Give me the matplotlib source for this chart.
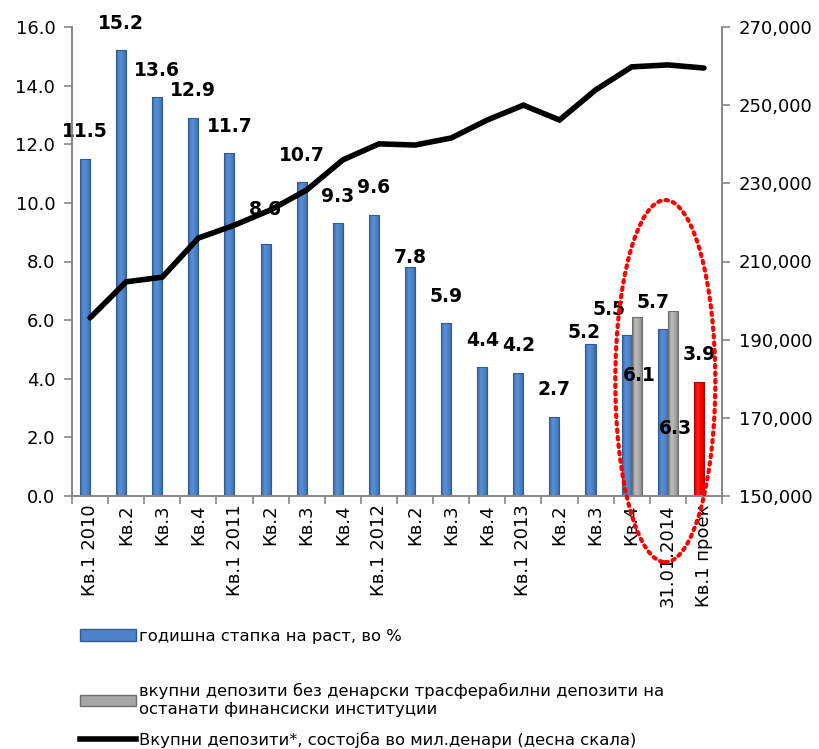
import numpy as np
import matplotlib
matplotlib.use('Agg')
import matplotlib.pyplot as plt
from matplotlib.patches import Patch, Ellipse
from matplotlib.lines import Line2D
from matplotlib.colors import LinearSegmentedColormap
from matplotlib.ticker import FuncFormatter, FixedLocator

plt.rcParams['font.family'] = ['DejaVu Sans']

categories = ['Кв.1 2010', 'Кв.2', 'Кв.3', 'Кв.4', 'Кв.1 2011', 'Кв.2', 'Кв.3', 'Кв.4',
              'Кв.1 2012', 'Кв.2', 'Кв.3', 'Кв.4', 'Кв.1 2013', 'Кв.2', 'Кв.3', 'Кв.4',
              '31.01.2014', 'Кв.1 проек']
# годишна стапка на раст (the last one is the projection, drawn in red)
growth = [11.5, 15.2, 13.6, 12.9, 11.7, 8.6, 10.7, 9.3, 9.6, 7.8, 5.9, 4.4, 4.2, 2.7,
          5.2, 5.5, 5.7, 3.9]
# без денарски трансферабилни депозити на ОФИ
growth_adj_idx = [15, 16]
growth_adj = [6.1, 6.3]
# вкупни депозити, мил. денари
deposits = [195600, 204800, 206000, 216000, 219300, 223200, 228300, 236000, 240100,
            239800, 241600, 246200, 250000, 246200, 253900, 259800, 260300, 259500]

# label offsets (pixels from bar top), per bar
blue_lbl_off = [(0, 27)] * 18
blue_lbl_off[5] = (0, 34)
blue_lbl_off[9] = (0, 10)
blue_lbl_off[14] = (-6, 11)
blue_lbl_off[15] = (-18, 25)
blue_lbl_off[16] = (-10, 26)
grey_lbl_off = [(3, -58), (3, -117)]

BLUE_E = '#2F5C94'
GREY_E = '#6E6E6E'
AX_C = '#868686'
blue_cm = LinearSegmentedColormap.from_list('b', ['#3A67A3', '#5A8ED5', '#4F83C9', '#3A67A3'])
grey_cm = LinearSegmentedColormap.from_list('g', ['#7F7F7F', '#BDBDBD', '#A6A6A6', '#7A7A7A'])
red_cm = LinearSegmentedColormap.from_list('r', ['#D00000', '#FF2020', '#FF0000', '#C80000'])


def shade(a, bars, cmaps):
    # horizontal gradient inside each bar, like the excel cylinder look
    grad = np.linspace(0, 1, 64).reshape(1, -1)
    for b, cm in zip(bars, cmaps):
        x0, y0 = b.get_x(), b.get_y()
        im = a.imshow(grad, cmap=cm, aspect='auto', zorder=2.1,
                      extent=(x0, x0 + b.get_width(), y0, y0 + b.get_height()))
        im.set_clip_path(b)


fig = plt.figure(figsize=(8.19, 7.49), dpi=100)
ax = fig.add_axes([72 / 819, 1 - 496 / 749, 650 / 819, 469 / 749])
ax2 = ax.twinx()

x = np.arange(len(categories))
w = 0.28
edges = [BLUE_E] * 17 + ['#B00000']
b1 = ax.bar(x - 0.14, growth, w, color='none', edgecolor=edges, linewidth=0.8, zorder=2.2)
xa = np.array(growth_adj_idx)
b2 = ax.bar(xa + 0.14, growth_adj, w, color='none', edgecolor=GREY_E, linewidth=0.8, zorder=2.2)
shade(ax, b1, [blue_cm] * 17 + [red_cm])
shade(ax, b2, [grey_cm] * 2)

px2pt = 72 / 100
for i, v in enumerate(growth):
    dx, dy = blue_lbl_off[i]
    ax.annotate(f'{v:.1f}', (x[i] - 0.14, v), xytext=(dx * px2pt, dy * px2pt),
                textcoords='offset points', ha='center', va='center',
                fontsize=13.5, fontweight='bold', zorder=3)
for j, v in enumerate(growth_adj):
    dx, dy = grey_lbl_off[j]
    ax.annotate(f'{v:.1f}', (xa[j] + 0.14, v), xytext=(dx * px2pt, dy * px2pt),
                textcoords='offset points', ha='center', va='center',
                fontsize=13.5, fontweight='bold', zorder=3)

ax.set_xlim(-0.5, 17.5)
ax.set_ylim(0, 16)
ax.set_yticks(np.arange(0, 16.1, 2))
ax.yaxis.set_major_formatter(FuncFormatter(lambda v, p: f'{v:.1f}'))
ax.xaxis.set_major_locator(FixedLocator(np.arange(-0.5, 18, 1)))
ax.xaxis.set_major_formatter(FuncFormatter(lambda v, p: ''))
ax.set_xticks(x, minor=True)
ax.set_xticklabels(categories, minor=True, rotation=90, fontsize=13)
ax.tick_params(axis='x', which='minor', length=0, pad=6)
ax.tick_params(axis='x', which='major', length=6, color=AX_C, width=1.2)
ax.tick_params(axis='y', length=6, color=AX_C, width=1.2, labelsize=13, pad=6)

ax2.plot(x, deposits, color='black', linewidth=4, solid_capstyle='round',
         solid_joinstyle='miter', zorder=4)
ax2.set_ylim(150000, 270000)
ax2.set_yticks(np.arange(150000, 270001, 20000))
ax2.yaxis.set_major_formatter(FuncFormatter(lambda v, p: f'{int(v):,}'))
ax2.tick_params(axis='y', length=6, color=AX_C, width=1.2, labelsize=13, pad=6)

for a in (ax, ax2):
    a.spines['top'].set_visible(False)
    for s in ('left', 'right', 'bottom'):
        a.spines[s].set_color(AX_C)
        a.spines[s].set_linewidth(1.2)

# red dotted ellipse around the last three periods (in left-axis units)
ell = Ellipse((15.93, 3.92), 2.77, 12.35, fill=False, edgecolor='red', linewidth=3,
              linestyle=(0, (0.6, 1.2)), capstyle='round', clip_on=False, zorder=5,
              transform=ax.transData)
ax2.add_patch(ell)

leg_items = [
    (Patch(facecolor='#4F83C9', edgecolor=BLUE_E), 'годишна стапка на раст, во %', 1 - 636 / 749),
    (Patch(facecolor='#A6A6A6', edgecolor=GREY_E),
     'вкупни депозити без денарски трасферабилни депозити на\nостанати финансиски институции',
     1 - 700 / 749),
    (Line2D([], [], color='black', linewidth=4),
     'Вкупни депозити*, состојба во мил.денари (десна скала)', 1 - 740 / 749),
]
for h, lab, yy in leg_items:
    fig.legend([h], [lab], loc='center left', bbox_to_anchor=(80 / 819, yy),
               frameon=False, fontsize=11.8, handlelength=3.4, handletextpad=0.2,
               borderpad=0, borderaxespad=0)

fig.savefig('out.png', dpi=100)
